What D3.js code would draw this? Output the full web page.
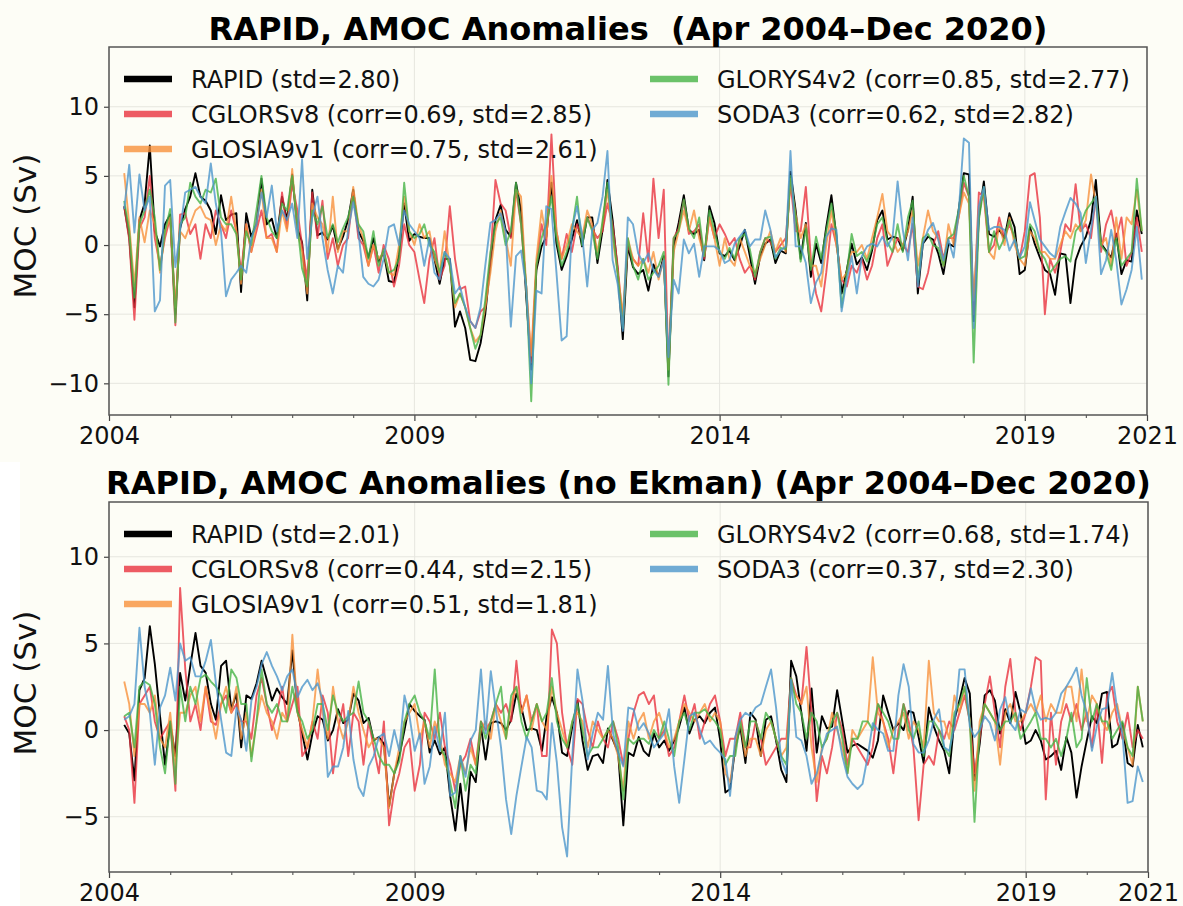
<!DOCTYPE html>
<html><head><meta charset="utf-8">
<script src="https://cdn.jsdelivr.net/npm/d3@7"></script>
<style>
body{margin:0;background:#fff;}
svg{display:block;}
text{font-family:"DejaVu Sans",sans-serif;white-space:pre;}
</style>
</head><body>
<svg id="chart" width="1183" height="906"></svg>
<script>
// ---------------- DATA ----------------
const seriesNames = ["RAPID", "CGLORSv8", "GLOSIA9v1", "GLORYS4v2", "SODA3"];
const legendLabelsTop = ["RAPID (std=2.80)", "CGLORSv8 (corr=0.69, std=2.85)", "GLOSIA9v1 (corr=0.75, std=2.61)", "GLORYS4v2 (corr=0.85, std=2.77)", "SODA3 (corr=0.62, std=2.82)"];
const legendLabelsBottom = ["RAPID (std=2.01)", "CGLORSv8 (corr=0.44, std=2.15)", "GLOSIA9v1 (corr=0.51, std=1.81)", "GLORYS4v2 (corr=0.68, std=1.74)", "SODA3 (corr=0.37, std=2.30)"];
const titleTop = "RAPID, AMOC Anomalies  (Apr 2004\u2013Dec 2020)";
const titleBottom = "RAPID, AMOC Anomalies (no Ekman) (Apr 2004\u2013Dec 2020)";
const yTickValuesTop = [-10, -5, 0, 5, 10];
const yTickValuesBottom = [-5, 0, 5, 10];
const xMajorYears = [2004, 2009, 2014, 2019, 2021];
const firstYear = 2004, firstMonth = 3; // April 2004, monthly to Dec 2020

// Panel 1: with Ekman (Sv)
const rapidTop = [2.8, 0.6, -4.5, 1.8, 3.0, 7.2, 1.0, -0.1, 1.5, 2.2, -5.0, 1.2,
 2.6, 3.5, 5.2, 3.5, 3.2, 2.5, 0.8, 3.6, 1.8, 2.2, 2.3, -3.4,
 2.3, 0.6, 1.5, 4.8, 1.5, 1.9, 0.5, 3.5, 1.8, 5.1, 1.2, 0.2,
 -4.0, 4.0, 0.7, 0.9, 0.4, 1.4, -0.3, 0.6, 1.8, 4.0, 1.0, 0.3,
 -0.9, 0.5, -1.2, -0.5, -2.6, -2.7, -0.7, 3.0, 0.3, 0.8, 0.6, 0.5,
 0.5, -1.0, -2.8, -1.0, -1.0, -5.9, -4.8, -6.0, -8.3, -8.4, -7.1, -5.0,
 -1.3, 1.8, 2.9, 1.1, 0.6, 4.5, 2.5, -3.7, -9.0, -1.8, -0.1, 0.6,
 4.5, 0.1, -1.8, -0.8, 0.4, 1.8, -0.1, 2.0, 2.0, -1.3, 1.1, 4.7,
 1.8, -1.8, -6.8, -0.1, -1.6, -2.1, -1.8, -3.3, -1.4, -2.3, -0.8, -9.5,
 -0.1, 1.6, 3.6, 1.1, 0.8, 1.1, -1.1, 2.8, 1.6, -0.6, -0.8, -0.4,
 -1.1, -0.1, 1.1, -0.8, -2.8, -0.8, 0.1, 0.4, -1.3, -0.4, -0.6, 5.3,
 2.5, -1.0, 1.6, -2.3, 0.1, -1.3, 1.3, 3.6, 0.6, -3.5, -1.8, 0.1,
 -1.4, -0.9, -1.8, -0.4, 1.8, 2.5, 0.4, 0.6, 0.5, -0.4, 1.1, 3.5,
 -3.5, 0.1, 0.6, 0.4, -0.6, -2.1, 0.1, -0.1, 2.5, 5.2, 5.1, -5.5,
 2.0, 4.6, 0.8, 0.6, 1.1, 0.5, 2.3, 1.3, -2.1, -1.8, 1.3, 0.1,
 -0.9, -1.8, -2.1, -3.6, -0.6, -0.7, -4.2, -1.1, -0.1, 0.6, 1.8, 4.7,
 0.1, -0.4, -0.9, 0.8, -2.1, -1.1, -1.2, 2.5, 0.8];
const cglorsTop = [2.8, 0.4, -5.4, 1.2, 2.0, 5.0, 0.5, -1.5, 0.5, 2.0, -5.8, 2.2,
 2.3, 0.8, 1.5, -1.0, 1.5, 0.5, 2.5, 1.5, 0.5, 2.5, 1.0, -2.0,
 1.5, -0.5, 1.0, 2.5, 0.5, 0.8, -0.5, 3.8, 1.2, 4.5, 2.5, 0.0,
 -2.5, 3.8, 0.5, 3.2, -1.0, 0.5, -1.5, 0.0, 0.5, 3.8, 0.5, 0.0,
 -1.5, 0.0, -2.0, 0.0, -1.0, -3.0, -1.5, 1.5, 0.0, -0.5, -2.5, -4.2,
 -1.0, 0.5, -2.5, -1.5, 2.8, -1.0, -3.2, -3.0, -5.5, -6.0, -4.8, -4.5,
 -1.0, 4.7, 3.0, 2.5, 0.5, 4.0, 1.5, -3.0, -8.5, -1.5, 1.5, 0.0,
 8.0, 1.0, -1.0, 0.8, -0.5, 1.5, 0.5, 2.0, 1.2, 0.5, 1.0, 3.0,
 1.5, -1.5, -5.5, 0.0, -1.0, -1.5, 2.3, -1.2, 4.8, 0.5, 4.0, -9.0,
 0.5, 1.2, 3.2, 0.8, 1.0, 1.5, -1.0, 2.0, 0.5, 1.5, 0.8, 0.0,
 0.5, -1.0, -2.0, -1.5, -2.5, -0.5, 0.5, 0.2, -0.5, 0.0, 0.5, 4.5,
 1.0, 1.0, 4.2, -1.0, -3.5, -4.8, -2.0, 1.5, 0.0, -2.5, -3.0, -1.5,
 -2.0, -1.0, -2.5, -1.5, 0.5, 1.5, -1.5, -0.5, 0.5, 0.0, -0.5, 1.5,
 -3.0, -3.2, -2.0, 0.0, 1.0, -1.0, 0.5, 0.5, 2.0, 4.5, 3.5, -5.0,
 3.8, 3.5, -0.5, 0.0, 2.0, 0.5, 1.5, 0.5, -1.0, 1.0, 5.0, 5.2,
 2.0, -5.0, -1.0, -2.0, -0.5, 1.5, 1.0, 4.4, 1.0, 1.5, 0.5, 3.5,
 -0.5, 1.5, 2.5, 0.5, 2.0, -1.5, -0.5, 2.0, -0.5];
const glosiaTop = [5.2, 1.5, -3.0, 2.0, 0.2, 2.5, 1.5, -2.0, 1.0, 2.0, -4.5, 1.0,
 0.5, 1.5, 2.5, 2.8, 2.0, 1.8, 0.0, 1.5, 1.0, 3.5, 1.0, -2.8,
 1.5, -0.5, 1.5, 4.0, 0.5, 0.5, -0.5, 2.5, 1.0, 5.5, 1.0, -0.5,
 -3.5, 3.0, 2.0, 1.5, -0.5, 3.5, -0.5, 1.0, 1.0, 4.2, 1.5, 0.5,
 -1.5, 0.0, -1.0, -0.5, -2.0, -2.2, 0.0, 3.5, 1.0, 0.0, 1.5, 0.5,
 1.0, -1.0, -2.0, 1.0, -1.5, -4.5, -3.5, -4.5, -6.0, -7.0, -6.5, -4.5,
 -2.0, 1.0, 2.5, 0.5, -1.5, 4.0, 3.5, -3.0, -8.0, -1.0, 2.5, 0.5,
 5.0, 1.0, -1.0, 0.0, 1.5, 1.0, 0.5, 2.5, 1.5, -0.5, 1.5, 4.0,
 0.5, -2.0, -5.0, 0.5, -1.0, -1.5, -1.0, -2.0, -0.5, -2.5, -1.0, -9.0,
 -0.5, 1.0, 2.5, 1.0, 2.5, 0.5, -0.8, 2.0, 0.5, -1.5, 0.5, -1.0,
 -1.5, 0.5, -0.5, -1.5, -2.0, -1.0, 0.0, 1.0, -0.5, 0.5, -0.5, 4.8,
 2.2, 0.5, 1.5, -1.5, -1.5, -3.0, 0.0, 2.5, 0.0, -2.5, -2.0, -0.5,
 -0.5, 0.0, -1.0, 0.5, 2.0, 3.7, 1.0, 0.5, -0.5, 0.0, 1.0, 2.5,
 -1.5, 0.5, 2.5, 1.0, 0.5, -1.5, 1.5, 0.0, 2.0, 3.8, 3.0, -4.0,
 2.5, 4.0, -0.5, -1.0, 1.5, 0.0, 2.0, 0.0, -1.0, -1.5, 1.0, 0.5,
 -0.5, -0.5, -1.0, -1.0, 0.0, 1.0, 0.5, 1.5, 1.0, 1.8, 5.1, 3.0,
 0.0, 0.5, -1.5, 2.0, -1.0, 2.0, 1.5, 4.0, 1.0];
const glorysTop = [3.2, 1.0, -3.8, 1.5, 2.5, 4.0, 2.0, -1.8, 1.0, 2.6, -5.6, 1.5,
 2.0, 4.5, 3.5, 3.0, 4.0, 3.8, 4.8, 2.0, 1.5, 1.5, 0.8, -2.5,
 1.0, 0.0, 2.5, 5.0, 2.0, 1.0, 0.5, 3.0, 2.5, 5.0, 1.5, -1.7,
 -3.0, 2.5, 1.5, 2.8, 0.5, 1.5, 0.2, 1.2, 2.0, 3.5, 1.5, 1.0,
 -1.0, 1.0, -1.5, -0.3, -2.0, -1.8, -1.0, 4.5, 1.0, 0.5, 0.8, 1.5,
 0.0, -0.5, -2.0, -0.5, -1.5, -4.2, -3.5, -4.5, -6.0, -7.5, -6.5, -4.0,
 -0.5, 1.5, 2.0, 0.0, 1.0, 4.5, 1.5, -3.0, -11.3, -1.5, 0.5, 1.5,
 3.5, 0.5, -1.5, -0.5, 1.0, 3.5, 0.0, 2.0, 1.0, -1.0, 1.8, 4.5,
 1.0, -2.0, -6.0, 0.5, -1.5, -2.5, -1.0, -2.5, -2.0, -1.5, -0.5, -10.1,
 0.5, 1.0, 3.3, 1.2, 0.5, 2.0, -0.8, 2.5, 1.0, -0.5, -1.0, -0.2,
 -1.0, 0.5, 0.8, -0.3, -2.3, -0.5, 0.5, 0.6, -1.0, -0.2, -0.3, 5.0,
 2.0, -1.2, 1.2, -1.8, 0.6, -1.0, 1.0, 3.0, 0.8, -4.5, -2.0, 0.8,
 -0.8, -0.5, -1.2, -0.2, 1.5, 2.0, 0.2, -0.5, 1.5, -0.5, 2.0, 3.2,
 -2.7, 0.5, 0.8, 0.0, -0.2, -1.5, 0.5, 0.8, 2.5, 5.0, 3.5, -8.5,
 1.8, 4.2, -0.5, 1.0, -0.3, 0.5, 1.8, 0.5, -1.0, -0.8, 1.5, 1.0,
 -0.5, -1.0, -2.0, -1.5, -1.0, -0.8, -1.2, 1.0, 1.5, 2.5, 3.0, 3.5,
 0.0, -0.5, -1.8, 0.5, -1.5, -1.0, -0.5, 4.8, 1.0];
const sodaTop = [2.6, 5.8, 0.9, 5.1, 2.5, 3.5, -4.8, -4.0, 4.3, 4.7, -1.6, 1.0,
 3.8, 4.0, 4.2, 3.5, 3.0, 5.9, 3.0, 1.0, -3.7, -2.5, -2.0, -1.5,
 -2.0, 0.5, 1.5, 3.8, 2.0, 4.3, 1.0, 2.5, 1.8, 3.0, 0.5, 6.2,
 -1.0, 2.0, 3.5, 0.5, -1.8, -3.5, -1.5, -2.0, 1.0, 3.1, 1.0, -2.3,
 -2.8, -3.0, -2.5, -1.0, 1.3, 1.5, 0.0, 2.5, 1.5, 1.0, 0.5, -1.5,
 0.5, -2.0, -2.5, -0.5, -1.0, -3.5, -3.0, -4.5, -5.5, -6.0, -4.5, -1.5,
 1.6, 1.8, 2.3, 1.0, -5.9, -0.8, -0.4, -3.0, -10.0, -3.3, -3.5, 2.8,
 2.6, -2.0, -6.9, -6.6, 1.1, 2.8, 0.8, -3.0, 1.1, 1.6, 3.5, 6.8,
 -1.1, -2.8, -6.2, 2.0, 1.5, -0.6, -1.3, -0.6, -1.8, -2.3, -1.1, -8.1,
 -2.5, -3.5, 0.4, -0.6, 0.1, -2.3, -0.1, -0.1, -0.1, -0.4, -1.3, -1.1,
 0.1, 0.6, 1.1, -0.1, 0.4, 0.4, 2.5, 1.1, -0.9, -0.4, -0.1, 6.8,
 -0.1, -0.1, -1.3, -4.2, -2.7, -2.0, 0.6, 1.2, 1.1, -4.8, -2.5, -0.8,
 -3.5, -0.8, -0.1, 0.1, -0.1, 0.6, -0.1, 0.6, 4.6, 1.1, -1.1, 2.0,
 -3.0, 0.1, 1.1, 1.6, 0.4, -1.1, 0.4, -0.9, 2.3, 7.7, 7.4, -6.0,
 2.8, 4.2, 1.1, 1.3, 1.3, 1.1, -0.4, 0.4, -0.9, -0.1, 3.1, 1.8,
 0.4, -0.1, -0.6, -0.9, 1.3, 2.4, 3.4, 3.0, 2.3, -1.3, 1.1, 3.5,
 -2.1, -1.1, 1.1, -1.1, -4.3, -3.2, -1.8, 1.3, -2.5];

// Panel 2: no Ekman (Sv)
const rapidBottom = [0.3, -0.2, -2.9, 2.3, 3.0, 6.0, 3.8, 0.8, -2.0, 0.4, -1.5, 3.3,
 1.7, 3.7, 5.6, 3.7, 3.3, 1.5, 0.6, 3.7, 4.0, 1.2, 2.1, -1.0,
 2.0, 1.8, 2.7, 4.0, 2.9, 1.7, 2.4, 1.9, 1.5, 4.6, 1.1, -0.2,
 -1.7, -0.2, 0.8, 0.6, -0.6, 0.0, 1.2, 0.4, 0.6, 2.1, 1.7, 0.4,
 0.7, -0.6, -0.4, -0.8, -4.4, -2.5, -1.5, 0.0, 1.5, 1.1, 0.8, 0.6,
 -1.3, -0.6, -1.4, -1.0, -3.8, -5.8, -3.1, -5.8, -2.4, -3.0, 0.2, -1.7,
 0.4, 0.5, 0.4, 0.0, 0.6, 2.1, 1.3, 0.0, 0.1, 0.0, -1.2, 0.8,
 1.9, 1.0, -1.3, -1.5, 0.2, 1.7, -0.6, -2.3, -1.5, -1.4, -1.9, 0.1,
 -0.6, -1.3, -5.5, -1.3, -1.5, -0.4, -1.2, -1.5, -0.2, -1.0, -0.6, -1.2,
 -0.6, 0.2, 1.3, -0.2, 0.6, 0.8, 0.4, 1.0, 1.3, -0.6, -3.6, -3.4,
 -1.0, 0.2, -1.9, 1.0, 0.6, -1.5, 0.6, 0.8, -0.6, -2.3, -3.0, 4.0,
 3.1, 1.0, -1.2, 2.4, -1.3, 0.8, 0.1, 0.2, 2.3, 0.5, -1.3, -0.9,
 -0.8, -1.0, -1.2, -1.6, -0.6, 2.0, 1.0, 0.0, 0.4, 0.0, 1.1, 1.0,
 -0.4, -1.9, 1.3, 0.2, -0.6, -1.2, -2.5, 0.6, 1.7, 3.0, 2.1, -2.9,
 -0.8, 2.0, 2.3, 1.7, -0.2, 1.2, 0.4, 2.2, 1.0, -0.8, -0.6, 0.0,
 -0.6, -1.7, -1.5, -1.2, -2.3, -0.4, -1.3, -3.9, -2.1, -0.6, 0.8, 0.4,
 2.1, 2.2, -1.0, -0.8, 0.4, -1.9, -2.1, 0.3, -1.0];
const cglorsBottom = [0.8, 0.0, -4.2, 1.5, 2.0, 2.5, 0.5, -0.5, 0.0, 0.5, -3.5, 8.2,
 3.5, 0.5, 1.5, 0.0, 2.5, 0.5, 0.3, 1.5, 2.0, 1.0, 1.5, 0.5,
 0.5, -0.5, 2.0, 3.0, 1.5, 0.0, 1.0, 2.5, 0.5, 1.5, 2.5, -1.5,
 -1.0, 0.5, -0.5, 2.0, 1.0, -2.5, 0.0, 1.5, -1.5, 1.0, 0.5, -2.0,
 0.5, -1.0, -2.5, 0.5, -5.5, -3.5, -2.5, -1.0, -0.5, -3.5, -2.0, 1.0,
 0.5, -0.5, 1.0, -1.0, -2.0, -3.5, -2.0, -1.5, -0.5, -2.0, 0.5, 0.0,
 0.5, 1.5, 1.0, 1.5, 0.5, 4.0, 1.0, 2.0, 0.5, 1.5, -1.5, -1.5,
 5.8, 5.0, 1.0, -1.0, -2.0, 1.8, 1.5, 0.0, -1.0, 0.5, -0.5, -1.0,
 0.5, -0.5, -2.0, -0.5, 1.0, 2.0, 2.2, 1.5, 2.0, -0.5, 0.0, -1.5,
 -1.0, 0.5, 2.0, 0.5, 1.5, -0.5, 0.5, 1.5, 2.0, 0.5, -1.5, -0.5,
 -0.5, 1.0, -1.0, -1.0, 0.5, -0.5, -2.0, -1.5, -1.0, -0.5, -0.5, 3.0,
 2.0, 1.5, 4.8, 1.0, -4.1, -1.5, -2.5, -1.0, 1.0, 0.0, -2.0, -0.5,
 -1.0, -1.5, -2.0, -1.0, 1.5, 0.5, -0.5, -2.5, 0.0, 1.5, 0.5, -1.0,
 -5.2, -2.0, -1.5, -2.0, 0.0, -0.5, 0.5, 0.0, 1.0, 2.0, 0.5, -2.5,
 -0.5, 1.5, 3.1, 1.0, -1.0, 2.5, 4.1, 1.0, 0.0, 1.0, 2.5, 4.2,
 4.0, -4.0, 1.0, -2.0, 0.5, 1.5, 0.5, 1.5, 0.0, 1.0, -1.0, 1.5,
 -1.9, 2.0, 2.5, 0.5, -0.5, 1.0, -1.0, 0.0, -0.5];
const glosiaBottom = [2.8, 1.5, -1.5, 1.5, 1.5, 1.0, 2.0, -0.5, -1.0, 1.0, -2.0, 1.0,
 1.0, 2.0, 2.5, 0.5, 2.5, 1.0, -0.5, 1.5, 2.5, 1.0, 2.5, -0.5,
 1.0, -1.5, 0.5, 2.0, 1.0, 0.5, -0.5, 1.0, 0.5, 5.5, 1.0, 0.0,
 -1.0, 0.5, 3.5, 1.0, -0.5, 2.5, 0.5, -0.5, 0.5, 2.5, 1.0, 0.0,
 -1.0, -0.5, -0.5, -1.0, -4.5, -2.5, -1.0, 0.5, 1.0, 1.5, -0.5, 0.5,
 -1.0, 0.5, -0.5, -2.0, -2.5, -3.0, -1.5, -2.5, -1.0, -2.0, 0.0, 0.5,
 -0.5, 1.5, 0.5, -0.5, 1.5, 2.5, 1.0, 2.0, 0.0, 1.5, 0.5, 0.0,
 2.5, 1.0, 0.0, -1.0, 0.5, 1.0, 0.5, -1.0, 0.5, 0.0, -0.5, 0.0,
 -0.5, -1.5, -3.5, 0.5, -0.5, 0.5, 1.0, -0.5, 0.5, 1.0, 0.0, -1.0,
 -0.5, 0.5, 1.5, 1.0, 0.5, 1.0, 1.5, 0.5, 1.0, 0.5, -2.5, -3.0,
 -1.0, 0.5, -1.5, -0.5, -0.5, -1.5, 0.0, 0.5, -0.5, -1.5, -1.0, 2.5,
 2.0, 1.5, 2.5, -1.0, -3.0, -1.0, -0.5, 1.0, 0.0, -1.0, -2.5, 0.0,
 -0.5, 0.0, 0.5, 4.2, 1.0, 0.5, -1.0, 0.0, 0.5, 1.0, -0.5, 0.5,
 0.0, -1.0, 4.0, 1.0, 0.5, 0.5, -0.5, 2.0, 1.0, 2.5, 0.5, -3.5,
 0.5, 1.5, 1.0, 0.5, -2.0, 1.0, 1.5, 0.5, 0.5, 1.0, 1.5, 1.0,
 2.0, 0.5, 1.5, 1.0, 1.0, 2.5, 2.5, 0.5, 3.5, 0.5, 2.0, 1.5,
 0.5, 0.0, 1.0, 1.5, 0.0, -1.0, -2.0, 2.5, 0.5];
const glorysBottom = [0.8, 1.0, -1.0, 2.5, 2.8, 2.6, 1.5, -1.0, -2.5, 0.5, -3.1, 2.5,
 0.5, 2.5, 1.5, 3.0, 3.2, 2.8, 2.5, 2.0, 1.0, 3.5, 3.0, 1.5,
 1.5, -1.8, 0.5, 3.5, 1.5, 1.0, 1.5, 0.5, 0.5, 2.5, 1.0, 0.5,
 -0.5, 0.0, 1.5, 1.5, 0.0, 2.0, 1.0, 0.5, 0.8, 1.0, 2.8, 1.0,
 0.5, -0.5, -1.5, -2.0, -2.0, -2.5, -1.8, 0.5, 1.5, 2.0, 1.0, 0.5,
 -0.5, 3.5, -1.0, -1.5, -3.0, -4.5, -1.5, -3.5, -2.0, -2.5, 0.5, -0.5,
 0.5, 1.5, 2.5, -0.5, 2.0, 2.5, 0.5, -0.5, 0.5, 1.5, 0.5, 1.0,
 3.0, 0.5, -0.5, -1.0, 0.5, 1.5, 0.0, -1.5, -1.0, -1.0, -0.5, 0.0,
 0.5, -1.0, -4.0, -0.5, -0.8, -0.5, -0.5, -0.8, 0.0, -0.5, 0.5, -0.5,
 -1.5, 0.5, 1.0, 0.0, 1.0, 1.0, 1.2, 0.8, 0.5, 0.0, -2.0, -1.5,
 -1.5, 0.5, -1.0, 0.5, 0.5, -0.5, 1.0, 0.5, -0.5, -1.5, -2.0, 3.0,
 1.5, 1.0, -0.5, 1.0, 0.5, -1.0, -0.5, 0.5, 1.0, -0.5, -2.5, -0.5,
 -0.5, 0.5, 0.5, 0.0, 1.5, 1.0, 0.5, -0.5, -0.5, 1.5, 0.0, -0.5,
 0.5, -1.5, 0.5, 0.5, 0.0, -1.0, -1.5, 1.0, 1.5, 2.5, 0.5, -5.3,
 0.0, 1.5, 1.0, 0.5, 0.0, 0.5, 0.5, 1.0, -0.5, 0.0, 0.5, 1.0,
 -0.5, -0.5, -1.0, -0.5, -1.5, -0.5, 1.0, -1.0, -0.5, 3.0, 0.5, 1.5,
 0.5, 0.5, -0.5, 0.0, 0.5, -1.0, -1.5, 2.5, 0.5];
const sodaBottom = [0.6, 0.8, 1.5, 5.9, 2.5, 1.0, -2.0, 1.3, 2.0, 3.6, 1.7, 5.0,
 4.0, 4.2, 3.1, 3.1, 4.0, 5.2, 2.7, 0.6, -1.3, -1.5, 1.3, 0.6,
 -1.2, 1.7, 2.5, 3.8, 4.5, 3.7, 3.1, 2.3, 3.1, 3.5, 1.9, 2.5,
 2.9, 2.3, 2.7, 1.7, -2.7, -2.1, -2.1, -1.0, 1.1, -1.7, -3.3, -3.8,
 -2.1, -1.5, -0.4, -0.2, -1.5, 0.0, -1.2, 2.0, 0.8, -1.2, -0.2, -3.1,
 -2.1, 0.2, -1.2, 1.0, -3.8, -3.6, -1.5, -2.7, -0.6, 0.0, 3.5, -0.2,
 3.4, 1.2, -1.0, -4.0, -6.0, -3.8, -2.1, -0.4, -1.0, -3.5, -3.6, -4.0,
 0.4, -1.9, -5.6, -7.3, -1.5, 3.5, 1.7, -1.7, -0.2, 1.0, 0.6, 3.7,
 -0.2, -1.3, -2.1, 1.3, 1.2, 0.0, 0.4, -0.2, -1.0, -0.6, -0.2, 1.2,
 -2.1, -4.2, -1.7, 0.8, 1.0, 0.0, -0.8, -0.6, -1.0, -1.3, -1.7, -3.8,
 -0.4, 0.6, 1.0, 0.8, 1.3, 1.5, 2.5, 3.5, 1.3, -1.7, -2.5, 2.9,
 -0.4, -0.6, -1.5, -3.1, -2.5, -1.2, -0.2, 0.0, 0.2, -1.5, -2.7, -3.1,
 -3.4, -3.1, -1.5, 0.4, 0.0, -0.2, -1.2, -1.2, 2.0, 3.8, 2.5, -0.8,
 -1.3, -1.3, -0.6, 0.6, 1.2, -1.0, -1.2, 0.2, 3.5, 3.5, 0.2, -0.4,
 0.0, 0.8, 0.4, -0.6, 1.2, 1.9, 0.4, 0.0, 1.2, 1.0, 2.4, 1.2,
 0.6, 0.7, 0.6, 1.0, 2.1, 2.5, 3.0, 3.6, 2.0, 1.0, -1.2, 0.2,
 1.2, 1.3, 3.3, 1.2, -0.2, -4.2, -4.1, -2.1, -3.0];

// ---------------- STYLE / LAYOUT ----------------
const colors = ["#000000", "#e8323e", "#f7913c", "#46b346", "#4c96cc"];
const lineOpacity = [1, 0.8, 0.8, 0.8, 0.8];
const BG = "#fdfdf6";

const panels = [
  {title: titleTop, labels: legendLabelsTop, series: [rapidTop, cglorsTop, glosiaTop, glorysTop, sodaTop],
   left: 109, right: 1147, top: 47, bottom: 415, yDomain: [-12.29, 14.32], yTicks: yTickValuesTop,
   titleY: 40, legendY: 79, ylabelY: 226},
  {title: titleBottom, labels: legendLabelsBottom, series: [rapidBottom, cglorsBottom, glosiaBottom, glorysBottom, sodaBottom],
   left: 109, right: 1148, top: 502, bottom: 872, yDomain: [-8.19, 13.16], yTicks: yTickValuesBottom,
   titleY: 494, legendY: 534, ylabelY: 683}
];

const svg = d3.select("#chart");
svg.append("rect").attr("x", 0).attr("y", 0).attr("width", 1183).attr("height", 906).attr("fill", "#ffffff");
svg.append("rect").attr("x", 0).attr("y", 0).attr("width", 1183).attr("height", 462).attr("fill", BG);
svg.append("rect").attr("x", 20).attr("y", 462).attr("width", 1163).attr("height", 444).attr("fill", BG);

function monthDate(i) { return new Date(firstYear, firstMonth + i, 1); }

panels.forEach(p => {
  const g = svg.append("g");
  const x = d3.scaleTime().domain([new Date(2004, 0, 1), new Date(2021, 0, 1)]).range([p.left, p.right]);
  const y = d3.scaleLinear().domain(p.yDomain).range([p.bottom, p.top]);

  const clipId = "clip" + p.top;
  svg.append("clipPath").attr("id", clipId).append("rect")
    .attr("x", p.left).attr("y", p.top).attr("width", p.right - p.left).attr("height", p.bottom - p.top);

  // grid
  const grid = g.append("g");
  p.yTicks.forEach(v => {
    grid.append("line").attr("x1", p.left).attr("x2", p.right).attr("y1", y(v)).attr("y2", y(v))
      .attr("stroke", "#e6e6df").attr("stroke-width", 1);
  });
  xMajorYears.forEach(yr => {
    const xx = x(new Date(yr, 0, 1));
    grid.append("line").attr("x1", xx).attr("x2", xx).attr("y1", p.top).attr("y2", p.bottom)
      .attr("stroke", "#e6e6df").attr("stroke-width", 1);
  });

  // lines
  const line = d3.line().x((d, i) => x(monthDate(i))).y(d => y(d));
  const lg = g.append("g").attr("clip-path", `url(#${clipId})`);
  p.series.forEach((s, k) => {
    lg.append("path").datum(s).attr("d", line).attr("fill", "none")
      .attr("stroke", colors[k]).attr("stroke-opacity", lineOpacity[k])
      .attr("stroke-width", 1.9).attr("stroke-linejoin", "round");
  });

  // axes
  const xAxis = d3.axisBottom(x).tickValues(xMajorYears.map(yr => new Date(yr, 0, 1)))
    .tickFormat(d3.timeFormat("%Y")).tickSize(6).tickPadding(6);
  const xa = g.append("g").attr("transform", `translate(0,${p.bottom})`).call(xAxis);
  xa.select(".domain").remove();
  xa.selectAll("text").attr("font-size", 24).attr("fill", "#111").attr("font-family", "DejaVu Sans");
  xa.selectAll("line").attr("stroke", "#444").attr("stroke-width", 1.2);
  const minorYears = d3.range(2005, 2021).filter(yr => !xMajorYears.includes(yr));
  const xm = d3.axisBottom(x).tickValues(minorYears.map(yr => new Date(yr, 0, 1))).tickFormat("").tickSize(3);
  const xma = g.append("g").attr("transform", `translate(0,${p.bottom})`).call(xm);
  xma.select(".domain").remove();
  xma.selectAll("line").attr("stroke", "#444").attr("stroke-width", 1);

  const yAxis = d3.axisLeft(y).tickValues(p.yTicks).tickFormat(d3.format("d")).tickSize(5).tickPadding(5);
  const ya = g.append("g").attr("transform", `translate(${p.left},0)`).call(yAxis);
  ya.select(".domain").remove();
  ya.selectAll("text").attr("font-size", 24).attr("fill", "#111").attr("font-family", "DejaVu Sans");
  ya.selectAll("line").attr("stroke", "#444").attr("stroke-width", 1.2);

  // frame
  g.append("rect").attr("x", p.left).attr("y", p.top).attr("width", p.right - p.left).attr("height", p.bottom - p.top)
    .attr("fill", "none").attr("stroke", "#555").attr("stroke-width", 1.5);

  // title
  g.append("text").attr("x", (p.left + p.right) / 2).attr("y", p.titleY).attr("text-anchor", "middle")
    .attr("xml:space", "preserve").style("white-space", "pre")
    .attr("font-size", 32).attr("font-weight", "bold").attr("fill", "#000").text(p.title);

  // ylabel
  g.append("text").attr("transform", `translate(36,${p.ylabelY}) rotate(-90)`).attr("text-anchor", "middle")
    .attr("font-size", 31).attr("fill", "#111").text("MOC (Sv)");

  // legend (2 columns: 3 + 2)
  const colX = [124, 650];
  const rowH = 35;
  p.labels.forEach((lab, k) => {
    const col = k < 3 ? 0 : 1;
    const row = k < 3 ? k : k - 3;
    const cy = p.legendY + row * rowH;
    g.append("line").attr("x1", colX[col]).attr("x2", colX[col] + 48).attr("y1", cy).attr("y2", cy)
      .attr("stroke", colors[k]).attr("stroke-opacity", lineOpacity[k]).attr("stroke-width", 6.5);
    g.append("text").attr("x", colX[col] + 67).attr("y", cy).attr("dy", "0.36em")
      .attr("font-size", 24).attr("fill", "#111").text(lab);
  });
});
</script>
</body></html>
